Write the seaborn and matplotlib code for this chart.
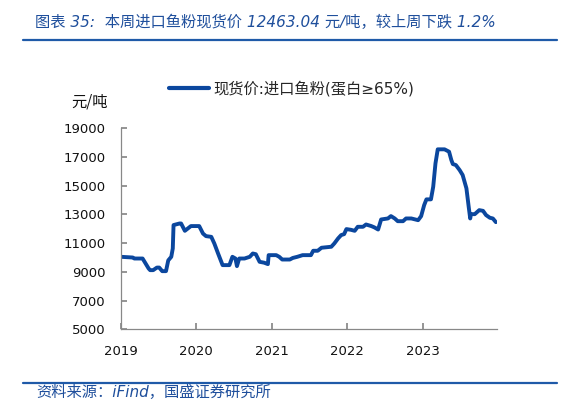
import matplotlib
matplotlib.use("Agg")
import matplotlib.pyplot as plt
import seaborn as sns
import pandas as pd
from matplotlib.lines import Line2D

# ---- data ----
t_year = [2019.00, 2019.16, 2019.18, 2019.29, 2019.37, 2019.39, 2019.43, 2019.48, 2019.51, 2019.55,
          2019.60, 2019.63, 2019.67, 2019.69, 2019.70, 2019.78, 2019.80, 2019.85, 2019.89, 2019.93,
          2020.04, 2020.09, 2020.13, 2020.20, 2020.24, 2020.29, 2020.35, 2020.44, 2020.48, 2020.52,
          2020.54, 2020.57, 2020.64, 2020.71, 2020.75, 2020.79, 2020.84, 2020.90, 2020.95, 2020.96,
          2021.06, 2021.10, 2021.14, 2021.24, 2021.28, 2021.34, 2021.41, 2021.52, 2021.55, 2021.61,
          2021.66, 2021.79, 2021.83, 2021.88, 2021.92, 2021.96, 2021.99, 2022.05, 2022.10, 2022.14,
          2022.21, 2022.25, 2022.32, 2022.36, 2022.41, 2022.45, 2022.54, 2022.58, 2022.63, 2022.67,
          2022.74, 2022.78, 2022.85, 2022.94, 2022.98, 2023.02, 2023.05, 2023.11, 2023.14, 2023.17,
          2023.20, 2023.29, 2023.35, 2023.38, 2023.40, 2023.44, 2023.49, 2023.53, 2023.58, 2023.61,
          2023.63, 2023.64, 2023.69, 2023.75, 2023.80, 2023.84, 2023.89, 2023.93, 2023.97]
price = [10050, 10000, 9930, 9930, 9235, 9120, 9120, 9300, 9300, 9050,
         9050, 9800, 10050, 10630, 12260, 12370, 12370, 11860, 12025, 12190,
         12190, 11670, 11490, 11440, 10980, 10280, 9470, 9470, 10050, 9930,
         9400, 9930, 9930, 10050, 10280, 10230, 9700, 9640, 9540, 10165,
         10165, 10050, 9860, 9860, 9970, 10050, 10165, 10165, 10470, 10470,
         10680, 10750, 10980, 11330, 11560, 11630, 11980, 11930, 11860, 12140,
         12140, 12300, 12190, 12100, 11950, 12650, 12720, 12885, 12720, 12530,
         12530, 12720, 12720, 12600, 12880, 13650, 14050, 14050, 14930, 16560,
         17535, 17535, 17370, 16790, 16510, 16440, 16090, 15745, 14815, 13535,
         12720, 13020, 13020, 13300, 13250, 12955, 12770, 12720, 12463.04]
series_name = "现货价:进口鱼粉(蛋白≥65%)"
year_ticks = [2019, 2020, 2021, 2022, 2023]
y_ticks = [5000, 7000, 9000, 11000, 13000, 15000, 17000, 19000]
title = "图表 35:  本周进口鱼粉现货价 12463.04 元/吨，较上周下跌 1.2%"
source = "资料来源：iFind，国盛证券研究所"
unit = "元/吨"

sns.set_theme(style="white")
plt.rcParams['font.family'] = ['Noto Sans CJK SC', 'DejaVu Sans']
MIX = ['DejaVu Sans', 'Noto Sans CJK SC']

LINE = '#0B479E'
TXT_BLUE = '#1F4F9C'
RULE = '#1F5AA8'

fig = plt.figure(figsize=(5.62, 4.17), dpi=100)
ax = fig.add_axes([120.7/562, 1-329.3/417, (497-120.7)/562, (329.3-128.3)/417])

df = pd.DataFrame({"t": t_year, "v": price})
sns.lineplot(data=df, x="t", y="v", ax=ax, color=LINE, linewidth=2.8, legend=False)

ax.set_xlim(2019.0, 2023.985)
ax.set_ylim(5000, 19000)
ax.set_xticks(year_ticks)
ax.set_xticklabels([str(y) for y in year_ticks], family='DejaVu Sans')
ax.set_yticks(y_ticks)
ax.set_yticklabels([str(v) for v in y_ticks], family='DejaVu Sans')
ax.set_xlabel("")
ax.set_ylabel("")
for s in ['top', 'right']:
    ax.spines[s].set_visible(False)
for s in ['left', 'bottom']:
    ax.spines[s].set_color('#888888')
    ax.spines[s].set_linewidth(0.9)
ax.tick_params(axis='y', which='both', direction='in', length=4, color='#888888',
               labelsize=9.5, pad=11, left=True, labelcolor='#111111')
ax.tick_params(axis='x', which='both', direction='in', length=4, color='#888888',
               labelsize=9.5, pad=11, bottom=True, labelcolor='#111111')
ax.grid(False)

# legend
h = Line2D([0], [0], color=LINE, linewidth=3)
fig.legend([h], [series_name], loc='center', bbox_to_anchor=(291.7/562, 1-88.8/417),
           frameon=False, handlelength=2.6, handletextpad=0.3,
           prop={'family': MIX, 'size': 11}, borderaxespad=0)

fig.text(71.5/562, 1-101.7/417, unit, fontsize=11, va='center', ha='left', color='#111111')

# header / footer
fig.text(35/562, 1-22.7/417, title, fontsize=11, color=TXT_BLUE, va='center', ha='left',
         family=MIX, style='italic')
fig.add_artist(Line2D([22.7/562, 557/562], [1-40.3/417, 1-40.3/417], color=RULE, linewidth=1.6))
fig.add_artist(Line2D([22.7/562, 557/562], [1-382.7/417, 1-382.7/417], color=RULE, linewidth=1.6))
fig.text(36/562, 1-392.7/417, source, fontsize=11, color=TXT_BLUE, va='center', ha='left',
         family=MIX, style='italic')

fig.savefig("out.png", dpi=100)
